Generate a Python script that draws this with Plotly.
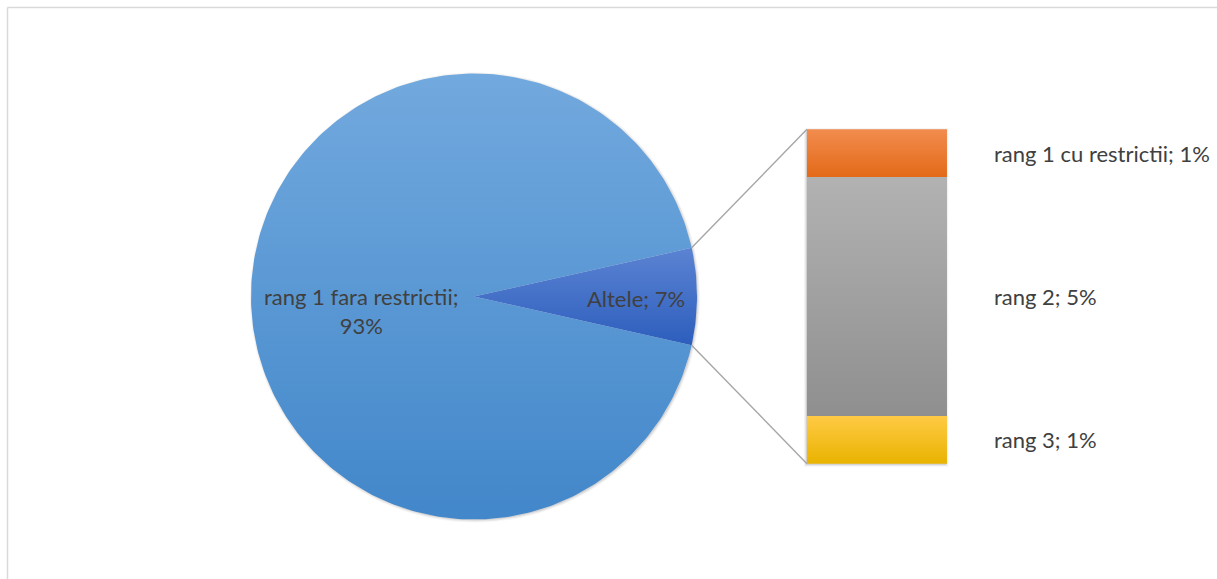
import numpy as np
import plotly.graph_objects as go

# ---- data -------------------------------------------------------------
main_labels = ["rang 1 fara restrictii", "Altele"]
main_values = [93, 7]
detail_labels = ["rang 1 cu restrictii", "rang 2", "rang 3"]
detail_values = [1, 5, 1]

# ---- styling ------------------------------------------------------------
# (top colour, bottom colour) of the vertical gradient of each mark
main_colors = [("#72a9de", "#4287ca"), ("#5b83d2", "#2d5ebd")]
detail_colors = [("#f28c4e", "#e36a18"), ("#b2b2b2", "#8f8f8f"), ("#ffca45", "#e9b300")]
TEXT_COLOR = "#404040"
FONT = "Lato"
FONT_SIZE = 22

# ---- geometry (pie radius = 1 unit) -------------------------------------
W, H = 1217, 579
PX = 223.0              # pixels per unit
CX, CY = 474.0, 296.5   # pie centre in page pixels (from top-left)
BAR_X0, BAR_X1 = 1.493, 2.121
BAR_HEIGHT = 1.5
LABEL_X = 2.322

fig = go.Figure()


def add_shape_trace(xs, ys, top, bottom):
    fig.add_trace(go.Scatter(
        x=xs, y=ys, mode="lines", fill="toself",
        line=dict(width=0, color=bottom),
        fillgradient=dict(type="vertical", colorscale=[[0, bottom], [1, top]]),
        hoverinfo="skip", showlegend=False,
    ))


def add_soft_shadow(xs, ys):
    for dx, a in [(0.010, 0.04), (0.005, 0.06)]:
        fig.add_trace(go.Scatter(
            x=xs, y=ys, mode="lines", fill="toself",
            line=dict(width=dx * PX * 2, color=f"rgba(0,0,0,{a})"),
            fillcolor=f"rgba(0,0,0,{a})", hoverinfo="skip", showlegend=False,
        ))


total = sum(main_values)

# soft shadow behind the pie
t = np.linspace(0, 2 * np.pi, 361)
add_soft_shadow(0.004 + np.cos(t), -0.004 + np.sin(t))

# pie: the "Altele" slice is centred on 0 deg, facing the bar
half_other = np.pi * main_values[1] / total
slices = [
    (half_other, 2 * np.pi - half_other),   # main slice
    (-half_other, half_other),              # Altele
]
for (a0, a1), (top, bottom) in zip(slices, main_colors):
    ang = np.linspace(a0, a1, max(8, int(np.degrees(a1 - a0))))
    xs = np.concatenate([[0], np.cos(ang), [0]])
    ys = np.concatenate([[0], np.sin(ang), [0]])
    add_shape_trace(xs, ys, top, bottom)

# bar of the "Altele" breakdown, stacked from the top
add_soft_shadow(
    [BAR_X0 - 0.004, BAR_X1 - 0.004, BAR_X1 - 0.004, BAR_X0 - 0.004, BAR_X0 - 0.004],
    [BAR_HEIGHT / 2 - 0.004, BAR_HEIGHT / 2 - 0.004, -BAR_HEIGHT / 2 - 0.004,
     -BAR_HEIGHT / 2 - 0.004, BAR_HEIGHT / 2 - 0.004],
)
scale = BAR_HEIGHT / sum(detail_values)
y_top = BAR_HEIGHT / 2
seg_centers = []
for v, (top, bottom) in zip(detail_values, detail_colors):
    y0, y1 = y_top - v * scale, y_top
    add_shape_trace([BAR_X0, BAR_X1, BAR_X1, BAR_X0, BAR_X0], [y1, y1, y0, y0, y1], top, bottom)
    seg_centers.append((y0 + y1) / 2)
    y_top = y0

# connector lines from the Altele slice edges to the bar corners
for sgn in (1, -1):
    fig.add_trace(go.Scatter(
        x=[np.cos(half_other), BAR_X0],
        y=[sgn * np.sin(half_other), sgn * BAR_HEIGHT / 2],
        mode="lines", line=dict(color="#a6a6a6", width=1.4),
        hoverinfo="skip", showlegend=False,
    ))

# labels
annotations = []
pct = [round(100 * v / total) for v in main_values]
annotations.append(dict(
    x=-0.505, y=-0.065, text=f"{main_labels[0]};<br>{pct[0]}%",
    showarrow=False, xanchor="center", yanchor="middle",
))
annotations.append(dict(
    x=0.727, y=-0.01, text=f"{main_labels[1]}; {pct[1]}%",
    showarrow=False, xanchor="center", yanchor="middle",
))
for lab, v, yc in zip(detail_labels, detail_values, seg_centers):
    annotations.append(dict(
        x=LABEL_X, y=yc, text=f"{lab}; {round(100 * v / total)}%",
        showarrow=False, xanchor="left", yanchor="middle",
    ))
for a in annotations:
    a["font"] = dict(family=FONT, size=FONT_SIZE, color=TEXT_COLOR)

# chart-area frame: only its top and left edges fall inside the page
FX, FY = 7.5 / W, 1 - 7.5 / H
frame = dict(color="#d9d9d9", width=1.5)
fig.update_layout(
    width=W, height=H,
    margin=dict(l=0, r=0, t=0, b=0),
    paper_bgcolor="white", plot_bgcolor="white",
    showlegend=False, hovermode=False,
    xaxis=dict(range=[-CX / PX, (W - CX) / PX], visible=False, fixedrange=True),
    yaxis=dict(range=[-(H - CY) / PX, CY / PX], visible=False, fixedrange=True),
    annotations=annotations,
    shapes=[
        dict(type="line", xref="paper", yref="paper", x0=FX, x1=1, y0=FY, y1=FY, line=frame),
        dict(type="line", xref="paper", yref="paper", x0=FX, x1=FX, y0=0, y1=FY, line=frame),
    ],
)

fig.write_html("out.html")
